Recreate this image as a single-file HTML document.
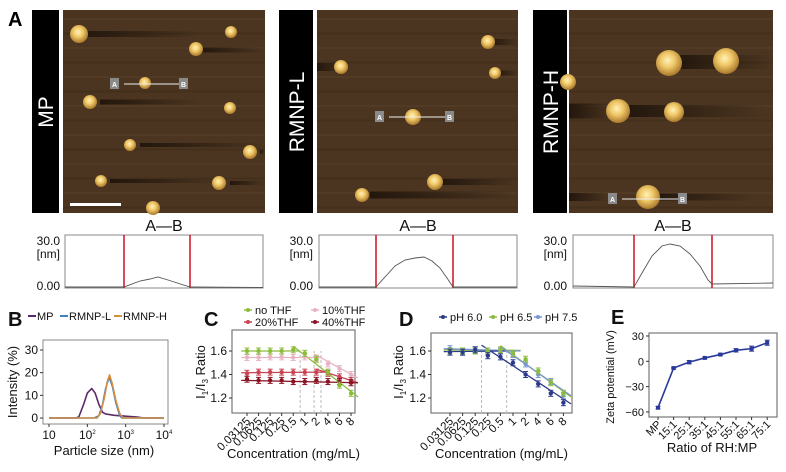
<!DOCTYPE html>
<html><head><meta charset="utf-8"><style>
html,body{margin:0;padding:0;background:#fff;}
svg{display:block;font-family:"Liberation Sans",Arial,sans-serif;}
</style></head><body>
<svg id="fig" width="786" height="472" viewBox="0 0 786 472" xmlns="http://www.w3.org/2000/svg">
<defs>
<radialGradient id="pg" cx="45%" cy="40%" r="60%">
<stop offset="0" stop-color="#fff2b8"/><stop offset="0.45" stop-color="#f0c868"/><stop offset="1" stop-color="#a8782c"/>
</radialGradient>
<linearGradient id="streak" x1="0" x2="1"><stop offset="0" stop-color="#1e130a" stop-opacity="0.9"/><stop offset="1" stop-color="#1e130a" stop-opacity="0"/></linearGradient>
</defs>
<g>
<text x="8" y="26" font-size="20" font-weight="bold">A</text>
<rect x="32" y="10" width="27" height="203" fill="#000"/>
<text transform="translate(53,112) rotate(-90)" text-anchor="middle" font-size="21" fill="#fff">MP</text>
<rect x="279" y="10" width="34" height="203" fill="#000"/>
<text transform="translate(304,112) rotate(-90)" text-anchor="middle" font-size="21" fill="#fff">RMNP-L</text>
<rect x="533" y="10" width="34" height="203" fill="#000"/>
<text transform="translate(558,112) rotate(-90)" text-anchor="middle" font-size="21" fill="#fff">RMNP-H</text>
<g id="afm"></g>
<rect x="70" y="203" width="51" height="3" fill="#fff"/>
</g>
<g id="prof"></g>
<g id="pb"></g><g id="pc"></g><g id="pd"></g><g id="pe"></g>
</svg>
<script>
// ---- AFM particle data (x, y, r) ----
const afm1 = [[79,34,9],[231,32,6],[196,49,7],[145,83,6],[90,102,7],[230,108,6],[130,145,6],[250,152,7],[101,181,6],[219,183,7],[153,208,7]];
const afm2 = [[488,42,7],[341,67,7],[495,73,6],[413,117,8],[435,182,8],[362,195,7]];
const afm3 = [[669,63,13],[726,61,13],[618,111,12],[674,112,10],[648,197,12],[568,82,8]];
// ---- DLS (panel B) ----
const mpSize = [10,50,60,80,100,130,160,200,250,300,500,1000,2000,3000,10000];
const mpInt  = [0,0,0.5,6,11,13,11,6,2.5,1.8,1.2,0.8,0.4,0,0];
const lSize = [10,150,200,250,300,370,450,550,700,800,10000];
const lInt  = [0,0,1,6,13,18,14,7,1,0,0];
const hSize = [10,180,220,280,330,380,450,550,700,850,10000];
const hInt  = [0,0,2,9,16,19,15,8,2,0,0];
const bTicksY = [0,10,20,30];
const bTicksX = [1,2,3,4];
// ---- Panel C ----
const concLabels = ["0.03125","0.0625","0.125","0.25","0.5","1","2","4","6","8"];
const cNoTHF = [1.60,1.60,1.60,1.60,1.61,1.58,1.53,1.42,1.31,1.24];
const c10THF = [1.545,1.545,1.55,1.55,1.545,1.55,1.54,1.49,1.45,1.40];
const c20THF = [1.41,1.42,1.42,1.42,1.42,1.42,1.42,1.41,1.38,1.35];
const c40THF = [1.36,1.35,1.35,1.35,1.34,1.34,1.35,1.34,1.34,1.33];
const ratioTicks = [1.2,1.4,1.6];
// ---- Panel D ----
const dPH60 = [1.59,1.59,1.61,1.56,1.55,1.50,1.40,1.32,1.24,1.16];
const dPH65 = [1.60,1.60,1.60,1.60,1.61,1.58,1.53,1.43,1.33,1.24];
const dPH75 = [1.62,1.59,1.61,1.60,1.60,1.57,1.49,1.40,1.34,1.22];
// ---- Panel E ----
const eCats = ["MP","15:1","25:1","35:1","45:1","55:1","65:1","75:1"];
const eVals = [-55,-8,-1,4,8,13,15,22];
const eErr  = [1.5,1,2,1,1,2,3,3];
const eTicks = [-60,-30,0,30];

const NS="http://www.w3.org/2000/svg";
function mk(parent,tag,attrs,name){
  const el=document.createElementNS(NS,tag);
  for(const k in attrs) el.setAttribute(k,attrs[k]);
  
  
  parent.appendChild(el);return el;
}
function txt(parent,x,y,s,size,anchor,name,extra){
  const a=Object.assign({x:x,y:y,'font-size':size,'text-anchor':anchor||'start',fill:'#111'},extra||{});
  const t=mk(parent,'text',a,name);t.textContent=s;return t;
}
function ratioTitle(parent,cx,cy,name){
  const t=mk(parent,'text',{x:0,y:0,'font-size':13,'text-anchor':'middle',fill:'#111',transform:'translate('+cx+','+cy+') rotate(-90)'},name);
  const parts=[['I',0],['1',1],['/I',0],['3',1],[' Ratio',0]];
  parts.forEach(p=>{const s=document.createElementNS(NS,'tspan');
    if(p[1]){s.setAttribute('font-size','8');s.setAttribute('dy','3');}
    else{s.setAttribute('dy', t.childNodes.length && parts[t.childNodes.length-1][1] ? '-3':'0');}
    s.textContent=p[0];t.appendChild(s);});
}
// AFM images
const afm=document.getElementById('afm');
function afmImg(x,y,w,h,parts,streaks,name,lab){
  const g=mk(afm,'g',{},name);
  mk(g,'rect',{x:x,y:y,width:w,height:h,fill:'#4b3520'},'afm-background');
  for(let i=0;i<14;i++){mk(g,'rect',{x:x,y:y+8+i*14.5,width:w,height:2,fill:(i%2?'#3e2b19':'#56402a'),opacity:0.6},'afm-scanline');}
  streaks.forEach(s=>{mk(g,'rect',{x:s[0],y:s[1]-s[3]/2,width:s[2],height:s[3],fill:'url(#streak)'},'afm-streak');});
  parts.forEach(p=>{mk(g,'circle',{cx:p[0],cy:p[1],r:p[2],fill:'url(#pg)'},'particle');});
  mk(g,'line',{x1:lab[0]+9,y1:lab[2],x2:lab[1]-1,y2:lab[2],stroke:'#eee','stroke-width':1},'profile-line');
  mk(g,'rect',{x:lab[0]-5,y:lab[2]-6,width:9,height:11,fill:'#8a8a8a'},'marker-a-box');
  txt(g,lab[0]-0.5,lab[2]+3,'A',7,'middle','marker-a',{fill:'#fff','font-weight':'bold'});
  mk(g,'rect',{x:lab[1]-4,y:lab[2]-6,width:9,height:11,fill:'#8a8a8a'},'marker-b-box');
  txt(g,lab[1]+0.5,lab[2]+3,'B',7,'middle','marker-b',{fill:'#fff','font-weight':'bold'});
}
afmImg(63,10,202,203,afm1,[[80,34,120,6],[200,50,65,5],[100,102,100,5],[140,145,125,4],[260,152,5,4],[110,181,110,4],[230,183,35,4]],'afm-image-mp',[115,183,84]);
afmImg(317,10,201,203,afm2,[[317,67,30,8],[490,42,28,6],[497,73,21,5],[370,195,148,7],[440,182,78,6]],'afm-image-rmnp-l',[380,449,117]);
afmImg(569,10,204,203,afm3,[[675,62,98,14],[569,111,45,15],[625,111,140,12],[569,197,40,8],[655,197,100,7]],'afm-image-rmnp-h',[613,682,199]);
// Profiles
const prof=document.getElementById('prof');
const profiles=[
 {x:65,w:198,r1:124,r2:190,lab:60,d:'M65,287 L124,287 L140,281 L150,279 L158,277 L168,280 L190,287 L263,287.5'},
 {x:319,w:198,r1:376,r2:453,lab:313,d:'M319,287 L376,287 L385,277 L395,266 L405,260 L415,258 L424,257 L432,261 L440,268 L447,278 L453,287 L517,287'},
 {x:573,w:200,r1:634,r2:712,lab:567,d:'M573,286 L634,287 L642,273 L652,256 L662,246 L670,244 L680,246 L690,254 L700,266 L708,280 L712,284 L773,283'}
];
profiles.forEach((p,i)=>{
  const g=mk(prof,'g',{},'height-profile-'+(i+1));
  txt(g,p.x+p.w/2,231,'A—B',16,'middle','profile-title');
  mk(g,'rect',{x:p.x,y:235,width:p.w,height:53,fill:'#fff',stroke:'#888','stroke-width':1},'profile-frame');
  mk(g,'line',{x1:p.r1,y1:235,x2:p.r1,y2:288,stroke:'#d01020','stroke-width':1.5},'cursor-left');
  mk(g,'line',{x1:p.r2,y1:235,x2:p.r2,y2:288,stroke:'#d01020','stroke-width':1.5},'cursor-right');
  mk(g,'path',{d:p.d,fill:'none',stroke:'#555','stroke-width':0.9},'profile-curve');
  txt(g,p.lab,245,'30.0',12,'end','y-max-label');
  txt(g,p.lab,258,'[nm]',12,'end','y-unit-label');
  txt(g,p.lab,290,'0.00',12,'end','y-min-label');
});
// Panel B
const pb=document.getElementById('pb');
const xB=s=>49+38.33*(Math.log10(s)-1), yB=v=>418-v*68/30;
txt(pb,8,326,'B',20,'start','panel-label-b',{'font-weight':'bold'});
[['MP','#5a2a6a',28],['RMNP-L','#3f7fc4',60],['RMNP-H','#d49040',114]].forEach(l=>{
  mk(pb,'line',{x1:l[2],y1:316,x2:l[2]+8,y2:316,stroke:l[1],'stroke-width':2},'legend-line-'+l[0].toLowerCase());
  txt(pb,l[2]+9,320,l[0],11,'start','legend-entry-'+l[0].toLowerCase());
});
mk(pb,'rect',{x:43,y:340,width:125,height:84,fill:'none',stroke:'#888','stroke-width':1},'plot-frame-b');
bTicksY.forEach(v=>{mk(pb,'line',{x1:40,y1:yB(v),x2:43,y2:yB(v),stroke:'#333'},'y-tick');txt(pb,38,yB(v)+4,String(v),12,'end','y-tick-label');});
bTicksX.forEach(e=>{const x=xB(Math.pow(10,e));mk(pb,'line',{x1:x,y1:424,x2:x,y2:427,stroke:'#333'},'x-tick');
  const t=txt(pb,x,439,'10',12,'middle','x-tick-label');
  if(e>1){const s=document.createElementNS(NS,'tspan');s.setAttribute('font-size','6');s.setAttribute('dy','-5');s.textContent=String(e);t.appendChild(s);}});
txt(pb,104,455,'Particle size (nm)',13,'middle','x-axis-title-b');
txt(pb,0,0,'Intensity (%)',13,'middle','y-axis-title-b',{transform:'translate(17,382) rotate(-90)'});
function curve(sz,iv,col,name){mk(pb,'polyline',{points:sz.map((s,i)=>xB(s)+','+yB(iv[i])).join(' '),fill:'none',stroke:col,'stroke-width':1.6,'stroke-linejoin':'round'},name);}
curve(mpSize,mpInt,'#5a2a6a','series-mp');
curve(lSize,lInt,'#3f7fc4','series-rmnp-l');
curve(hSize,hInt,'#d49040','series-rmnp-h');
// Generic line-panel helper
function ratioPanel(g,fx,fy,fw,fh,xF,yF,series,fits,dashes,legend,label,lx){
  txt(g,lx,326,label,20,'start','panel-label-'+label.toLowerCase(),{'font-weight':'bold'});
  legend.forEach(l=>{
    mk(g,'line',{x1:l[2]-4,y1:l[3],x2:l[2]+4,y2:l[3],stroke:l[1],'stroke-width':1.5},'legend-line');
    mk(g,'circle',{cx:l[2],cy:l[3],r:2,fill:l[1]},'legend-marker');
    txt(g,l[2]+7,l[3]+4,l[0],11,'start','legend-entry');
  });
  mk(g,'rect',{x:fx,y:fy,width:fw,height:fh,fill:'none',stroke:'#777','stroke-width':1.2},'plot-frame');
  ratioTicks.forEach(v=>{mk(g,'line',{x1:fx-3,y1:yF(v),x2:fx,y2:yF(v),stroke:'#333'},'y-tick');txt(g,fx-5,yF(v)+4,v.toFixed(1),12,'end','y-tick-label');});
  concLabels.forEach((c,i)=>{const x=xF(i);mk(g,'line',{x1:x,y1:fy+fh,x2:x,y2:fy+fh+3,stroke:'#333'},'x-tick');
    txt(g,0,0,c,11.5,'end','x-tick-label',{transform:'translate('+(x+4)+','+(fy+fh+9)+') rotate(-45)'});});
  dashes.forEach(i=>{mk(g,'line',{x1:xF(i),y1:fy+fh,x2:xF(i),y2:yF(1.6),stroke:'#bbb','stroke-dasharray':'3,2'},'breakpoint-line');});
  fits.forEach(f=>{mk(g,'line',{x1:xF(f[0]),y1:yF(f[1]),x2:xF(f[2]),y2:yF(f[3]),stroke:f[4],'stroke-width':1.3},'fit-line');});
  series.forEach(s=>{s[0].forEach((v,i)=>{const x=xF(i),y=yF(v);
    mk(g,'line',{x1:x,y1:y-3,x2:x,y2:y+3,stroke:s[1]},'error-bar');
    mk(g,'line',{x1:x-2.5,y1:y-3,x2:x+2.5,y2:y-3,stroke:s[1]},'error-cap');
    mk(g,'line',{x1:x-2.5,y1:y+3,x2:x+2.5,y2:y+3,stroke:s[1]},'error-cap');
    mk(g,'circle',{cx:x,cy:y,r:2.2,fill:s[1]},s[2]+'-point-'+i);});});
  txt(g,fx+fw/2,458,'Concentration (mg/mL)',13,'middle','x-axis-title');
}
// Panel C
const pc=document.getElementById('pc');
const xC=i=>247+i*11.56, yC=v=>351+(1.6-v)*117.5;
ratioPanel(pc,232,330,123,83,xC,yC,
 [[c10THF,'#e8b4c4','10thf'],[c20THF,'#c84454','20thf'],[c40THF,'#8a1424','40thf'],[cNoTHF,'#8cbc3c','nothf']],
 [[-0.5,1.60,4.6,1.60,'#8cbc3c'],[4,1.64,9.6,1.21,'#8cbc3c'],[-0.5,1.545,6.5,1.545,'#e8b4c4'],[5.8,1.575,9.6,1.37,'#e8b4c4'],
  [-0.5,1.415,6.8,1.42,'#c84454'],[6,1.445,9.6,1.33,'#c84454'],[-0.5,1.35,9.6,1.33,'#8a1424']],
 [4.6,5.8,6.4],
 [['no THF','#8cbc3c',248,310],['10%THF','#e8b4c4',315,310],['20%THF','#c84454',248,322],['40%THF','#8a1424',315,322]],'C',204);
ratioTitle(pc,205,372,'y-axis-title-c');
// Panel D
const pd=document.getElementById('pd');
const xD=i=>450+i*12.6, yD=v=>351+(1.6-v)*117.5;
ratioPanel(pd,431,333,141,80,xD,yD,
 [[dPH75,'#7896d6','ph75'],[dPH65,'#8cbc3c','ph65'],[dPH60,'#2b3a8a','ph60']],
 [[-0.5,1.61,5.6,1.605,'#8cbc3c'],[-0.5,1.62,5.6,1.60,'#7896d6'],[-0.5,1.595,4.5,1.60,'#2b3a8a'],[2.5,1.65,9.6,1.15,'#2b3a8a'],[4,1.645,9.6,1.21,'#8cbc3c'],[4,1.635,9.6,1.22,'#7896d6']],
 [2.5,4.5],
 [['pH 6.0','#2b3a8a',443,317],['pH 6.5','#8cbc3c',493,317],['pH 7.5','#7896d6',538,317]],'D',399);
ratioTitle(pd,403,372,'y-axis-title-d');
// Panel E
const pe=document.getElementById('pe');
const xE=i=>658+i*15.6, yE=v=>361.3-v*0.844;
txt(pe,611,324,'E',20,'start','panel-label-e',{'font-weight':'bold'});
mk(pe,'rect',{x:649,y:333,width:128,height:84,fill:'none',stroke:'#777','stroke-width':1.2},'plot-frame-e');
eTicks.forEach(v=>{mk(pe,'line',{x1:646,y1:yE(v),x2:649,y2:yE(v),stroke:'#333'},'y-tick');txt(pe,644,yE(v)+4,v<0?'\u2212'+(-v):String(v),11,'end','y-tick-label');});
eCats.forEach((c,i)=>{const x=xE(i);mk(pe,'line',{x1:x,y1:417,x2:x,y2:420,stroke:'#333'},'x-tick');
  txt(pe,0,0,c,11,'end','x-tick-label',{transform:'translate('+(x+4)+',425) rotate(-45)'});});
mk(pe,'polyline',{points:eVals.map((v,i)=>xE(i)+','+yE(v)).join(' '),fill:'none',stroke:'#2b3a9a','stroke-width':1.6},'zeta-line');
eVals.forEach((v,i)=>{const x=xE(i),y=yE(v),e=eErr[i]*0.844;
  mk(pe,'line',{x1:x,y1:y-e,x2:x,y2:y+e,stroke:'#2b3a9a'},'error-bar');
  mk(pe,'line',{x1:x-2.5,y1:y-e,x2:x+2.5,y2:y-e,stroke:'#2b3a9a'},'error-cap');
  mk(pe,'line',{x1:x-2.5,y1:y+e,x2:x+2.5,y2:y+e,stroke:'#2b3a9a'},'error-cap');
  mk(pe,'rect',{x:x-2,y:y-2,width:4,height:4,fill:'#2b3a9a'},'zeta-point-'+i);});
txt(pe,712,452,'Ratio of RH:MP',13,'middle','x-axis-title-e');
txt(pe,0,0,'Zeta potential (mV)',11,'middle','y-axis-title-e',{transform:'translate(614,377) rotate(-90)'});
</script>
</body></html>
